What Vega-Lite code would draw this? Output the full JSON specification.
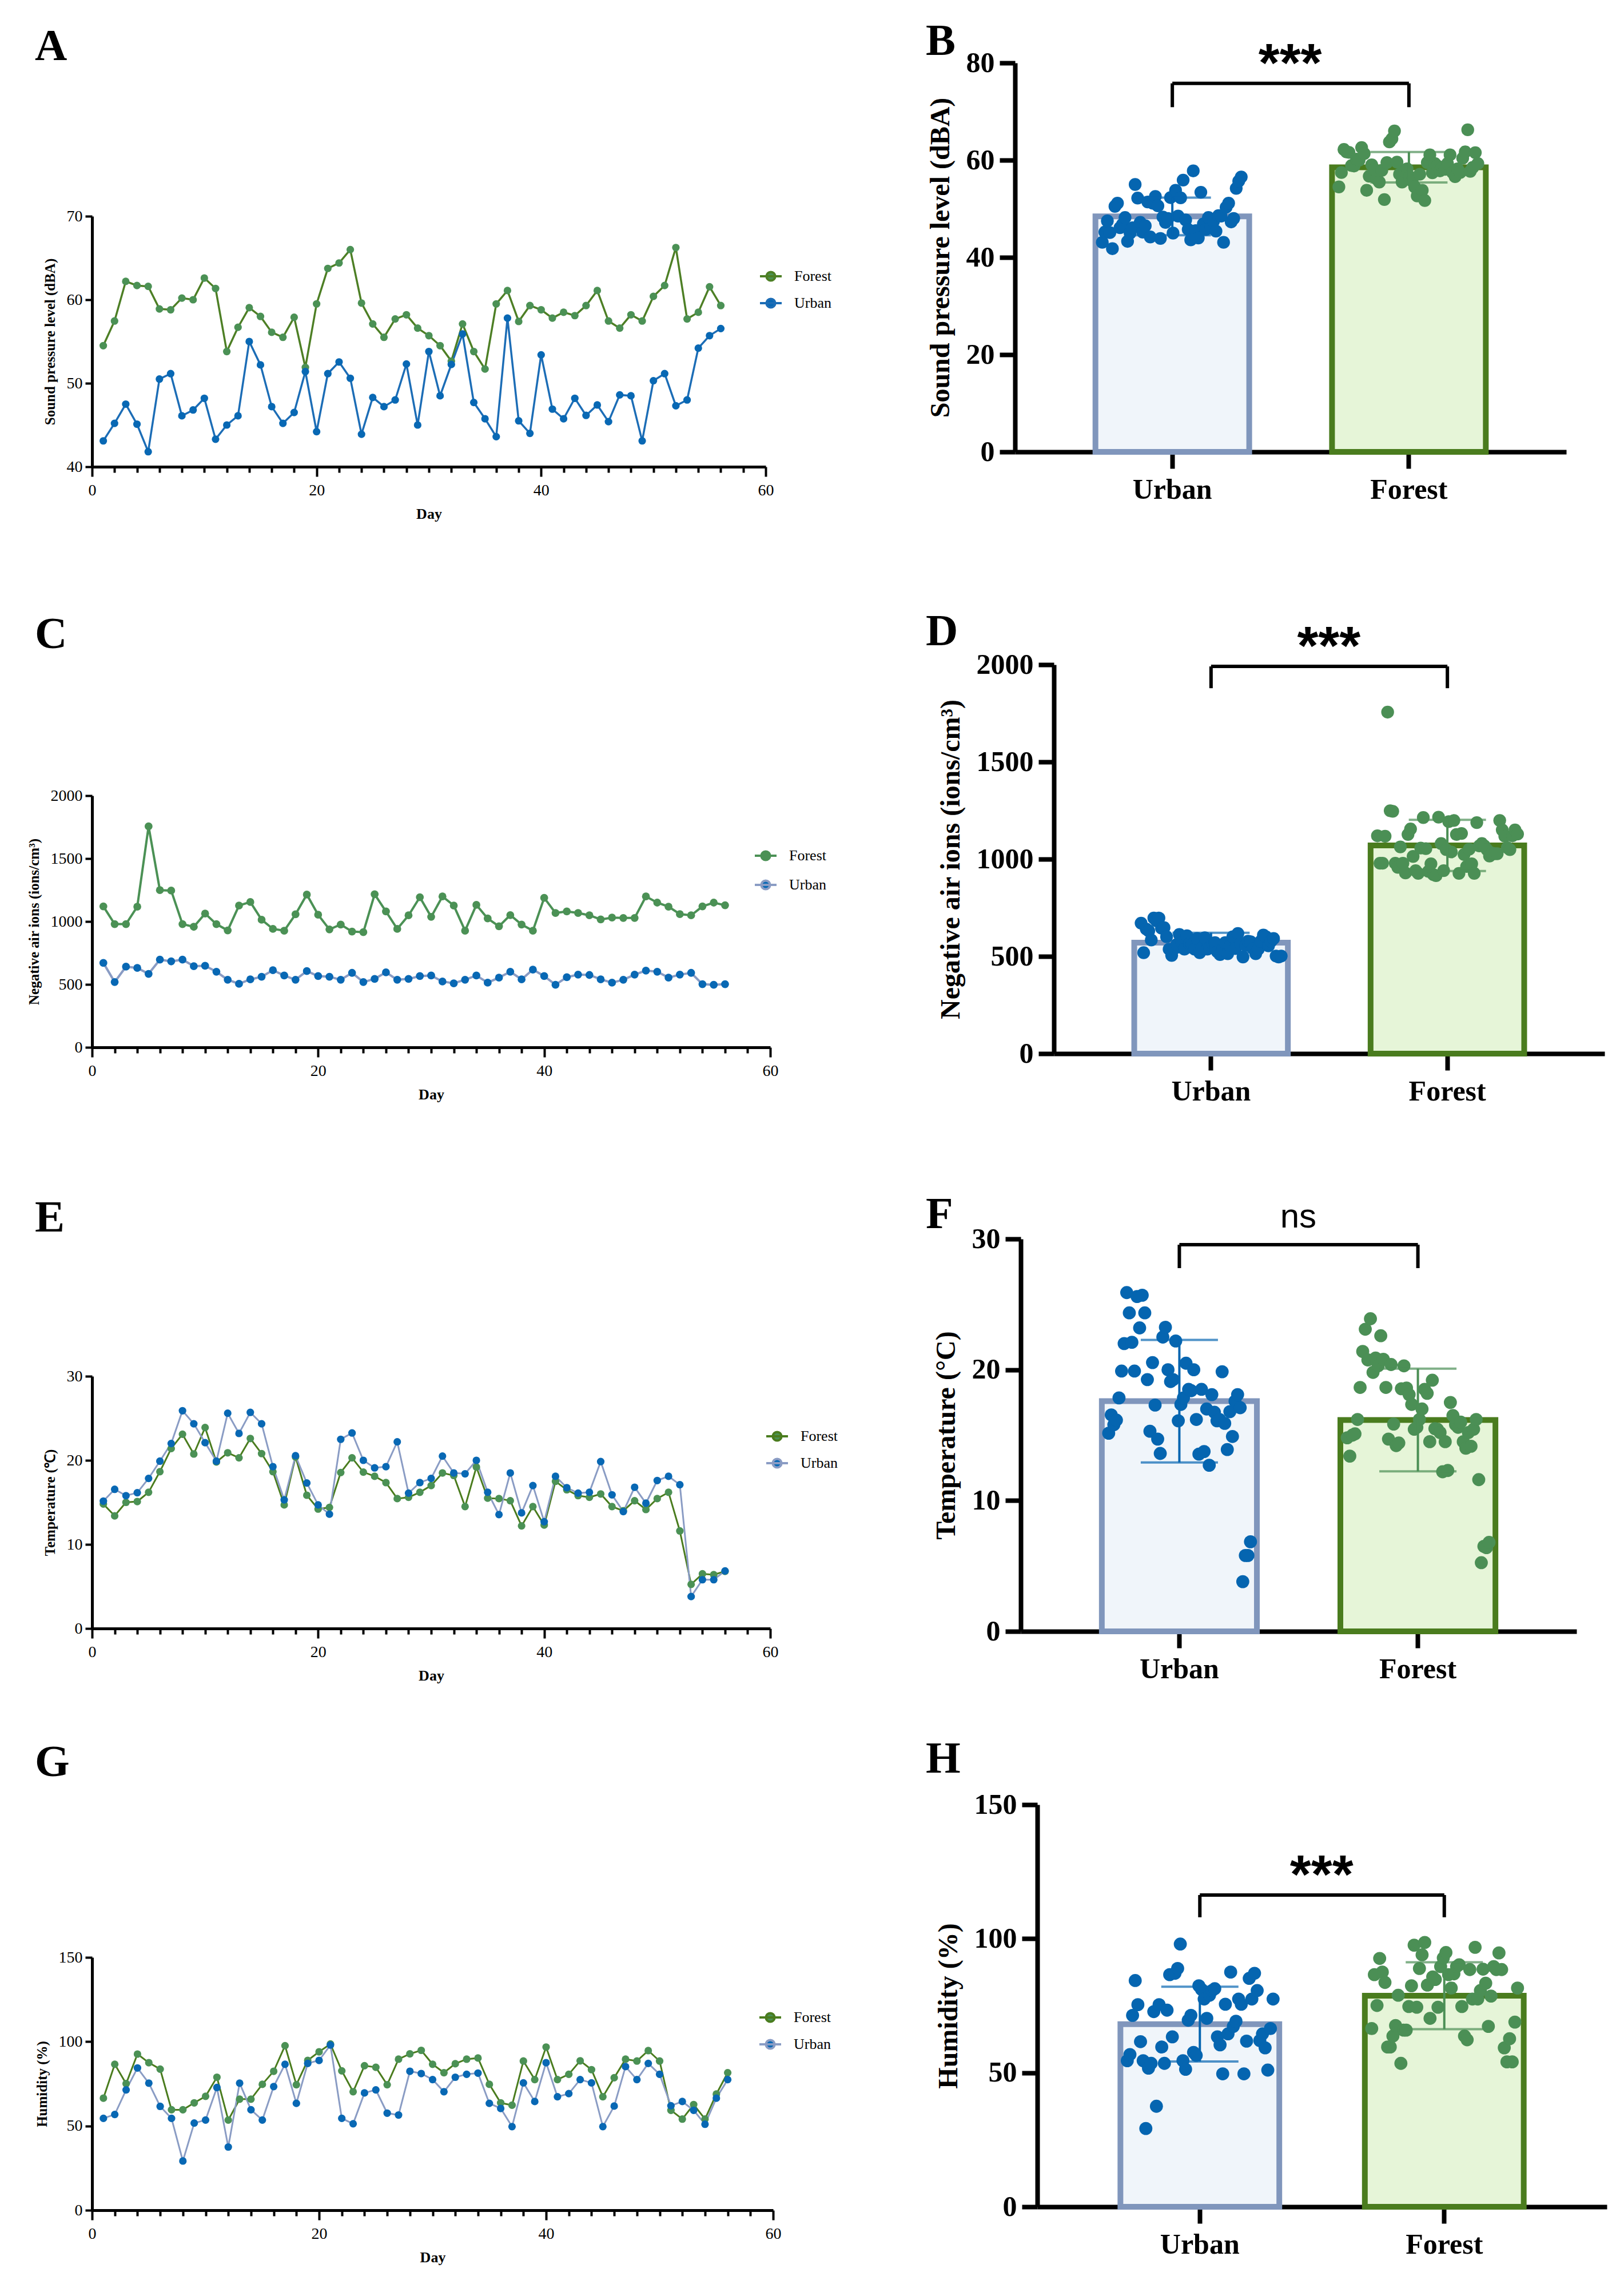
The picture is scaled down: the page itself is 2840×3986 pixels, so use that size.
{
"$schema":"https://vega.github.io/schema/vega-lite/v6.json",
"background":"white",
"padding":{"left":47,"top":33,"right":10,"bottom":10},
"config":{"view":{"stroke":null}},
"datasets":{
"spl":[{"day":1,"Forest":54.5,"Urban":43.1},{"day":2,"Forest":57.45,"Urban":45.2},{"day":3,"Forest":62.2,"Urban":47.5},{"day":4,"Forest":61.7,"Urban":45.1},{"day":5,"Forest":61.6,"Urban":41.8},{"day":6,"Forest":58.9,"Urban":50.5},{"day":7,"Forest":58.8,"Urban":51.15},{"day":8,"Forest":60.2,"Urban":46.1},{"day":9,"Forest":60.0,"Urban":46.8},{"day":10,"Forest":62.6,"Urban":48.2},{"day":11,"Forest":61.35,"Urban":43.3},{"day":12,"Forest":53.8,"Urban":45.0},{"day":13,"Forest":56.7,"Urban":46.1},{"day":14,"Forest":59.05,"Urban":55.0},{"day":15,"Forest":58.0,"Urban":52.2},{"day":16,"Forest":56.1,"Urban":47.2},{"day":17,"Forest":55.5,"Urban":45.2},{"day":18,"Forest":57.9,"Urban":46.5},{"day":19,"Forest":51.9,"Urban":51.4},{"day":20,"Forest":59.5,"Urban":44.2},{"day":21,"Forest":63.75,"Urban":51.15},{"day":22,"Forest":64.4,"Urban":52.55},{"day":23,"Forest":66.0,"Urban":50.6},{"day":24,"Forest":59.6,"Urban":43.9},{"day":25,"Forest":57.1,"Urban":48.3},{"day":26,"Forest":55.5,"Urban":47.2},{"day":27,"Forest":57.7,"Urban":48.0},{"day":28,"Forest":58.2,"Urban":52.3},{"day":29,"Forest":56.6,"Urban":45.0},{"day":30,"Forest":55.7,"Urban":53.8},{"day":31,"Forest":54.5,"Urban":48.5},{"day":32,"Forest":52.65,"Urban":52.25},{"day":33,"Forest":57.1,"Urban":55.9},{"day":34,"Forest":53.8,"Urban":47.7},{"day":35,"Forest":51.7,"Urban":45.75},{"day":36,"Forest":59.5,"Urban":43.6},{"day":37,"Forest":61.1,"Urban":57.8},{"day":38,"Forest":57.4,"Urban":45.5},{"day":39,"Forest":59.3,"Urban":44.0},{"day":40,"Forest":58.8,"Urban":53.4},{"day":41,"Forest":57.8,"Urban":46.9},{"day":42,"Forest":58.5,"Urban":45.75},{"day":43,"Forest":58.1,"Urban":48.2},{"day":44,"Forest":59.3,"Urban":46.15},{"day":45,"Forest":61.1,"Urban":47.4},{"day":46,"Forest":57.45,"Urban":45.4},{"day":47,"Forest":56.6,"Urban":48.6},{"day":48,"Forest":58.2,"Urban":48.5},{"day":49,"Forest":57.45,"Urban":43.1},{"day":50,"Forest":60.4,"Urban":50.3},{"day":51,"Forest":61.7,"Urban":51.15},{"day":52,"Forest":66.25,"Urban":47.3},{"day":53,"Forest":57.7,"Urban":48.0},{"day":54,"Forest":58.5,"Urban":54.2},{"day":55,"Forest":61.55,"Urban":55.7},{"day":56,"Forest":59.3,"Urban":56.55}],
"nai":[{"day":1,"Forest":1120,"Urban":671},{"day":2,"Forest":979,"Urban":519},{"day":3,"Forest":979,"Urban":641},{"day":4,"Forest":1118,"Urban":631},{"day":5,"Forest":1756,"Urban":584},{"day":6,"Forest":1249,"Urban":697},{"day":7,"Forest":1246,"Urban":683},{"day":8,"Forest":979,"Urban":697},{"day":9,"Forest":958,"Urban":645},{"day":10,"Forest":1063,"Urban":648},{"day":11,"Forest":979,"Urban":601},{"day":12,"Forest":929,"Urban":537},{"day":13,"Forest":1127,"Urban":505},{"day":14,"Forest":1155,"Urban":540},{"day":15,"Forest":1014,"Urban":561},{"day":16,"Forest":941,"Urban":613},{"day":17,"Forest":927,"Urban":571},{"day":18,"Forest":1057,"Urban":537},{"day":19,"Forest":1214,"Urban":606},{"day":20,"Forest":1054,"Urban":566},{"day":21,"Forest":937,"Urban":561},{"day":22,"Forest":976,"Urban":537},{"day":23,"Forest":920,"Urban":592},{"day":24,"Forest":915,"Urban":519},{"day":25,"Forest":1216,"Urban":544},{"day":26,"Forest":1080,"Urban":596},{"day":27,"Forest":941,"Urban":537},{"day":28,"Forest":1049,"Urban":544},{"day":29,"Forest":1193,"Urban":566},{"day":30,"Forest":1037,"Urban":571},{"day":31,"Forest":1199,"Urban":523},{"day":32,"Forest":1127,"Urban":509},{"day":33,"Forest":927,"Urban":537},{"day":34,"Forest":1132,"Urban":571},{"day":35,"Forest":1024,"Urban":514},{"day":36,"Forest":962,"Urban":554},{"day":37,"Forest":1051,"Urban":601},{"day":38,"Forest":976,"Urban":540},{"day":39,"Forest":927,"Urban":618},{"day":40,"Forest":1188,"Urban":566},{"day":41,"Forest":1068,"Urban":497},{"day":42,"Forest":1080,"Urban":557},{"day":43,"Forest":1068,"Urban":578},{"day":44,"Forest":1049,"Urban":575},{"day":45,"Forest":1016,"Urban":540},{"day":46,"Forest":1031,"Urban":514},{"day":47,"Forest":1028,"Urban":537},{"day":48,"Forest":1028,"Urban":578},{"day":49,"Forest":1199,"Urban":610},{"day":50,"Forest":1150,"Urban":601},{"day":51,"Forest":1118,"Urban":554},{"day":52,"Forest":1059,"Urban":578},{"day":53,"Forest":1049,"Urban":592},{"day":54,"Forest":1120,"Urban":502},{"day":55,"Forest":1150,"Urban":497},{"day":56,"Forest":1129,"Urban":502}],
"temp":[{"day":1,"Forest":14.8,"Urban":15.15},{"day":2,"Forest":13.4,"Urban":16.55},{"day":3,"Forest":15.0,"Urban":15.8},{"day":4,"Forest":15.1,"Urban":16.15},{"day":5,"Forest":16.2,"Urban":17.85},{"day":6,"Forest":18.65,"Urban":19.9},{"day":7,"Forest":21.4,"Urban":22.0},{"day":8,"Forest":23.1,"Urban":25.9},{"day":9,"Forest":20.75,"Urban":24.35},{"day":10,"Forest":23.9,"Urban":22.1},{"day":11,"Forest":19.8,"Urban":19.9},{"day":12,"Forest":20.9,"Urban":25.6},{"day":13,"Forest":20.3,"Urban":23.2},{"day":14,"Forest":22.6,"Urban":25.7},{"day":15,"Forest":20.8,"Urban":24.35},{"day":16,"Forest":18.65,"Urban":19.25},{"day":17,"Forest":14.7,"Urban":15.3},{"day":18,"Forest":20.4,"Urban":20.55},{"day":19,"Forest":15.85,"Urban":17.3},{"day":20,"Forest":14.2,"Urban":14.7},{"day":21,"Forest":14.4,"Urban":13.6},{"day":22,"Forest":18.55,"Urban":22.5},{"day":23,"Forest":20.3,"Urban":23.25},{"day":24,"Forest":18.6,"Urban":20.0},{"day":25,"Forest":18.1,"Urban":19.1},{"day":26,"Forest":17.35,"Urban":19.25},{"day":27,"Forest":15.45,"Urban":22.2},{"day":28,"Forest":15.6,"Urban":16.1},{"day":29,"Forest":16.2,"Urban":17.35},{"day":30,"Forest":17.0,"Urban":17.85},{"day":31,"Forest":18.5,"Urban":20.5},{"day":32,"Forest":18.2,"Urban":18.5},{"day":33,"Forest":14.5,"Urban":18.4},{"day":34,"Forest":19.2,"Urban":20.0},{"day":35,"Forest":15.5,"Urban":16.2},{"day":36,"Forest":15.45,"Urban":13.55},{"day":37,"Forest":15.2,"Urban":18.5},{"day":38,"Forest":12.2,"Urban":13.75},{"day":39,"Forest":14.5,"Urban":17.0},{"day":40,"Forest":12.3,"Urban":12.7},{"day":41,"Forest":17.5,"Urban":18.1},{"day":42,"Forest":16.5,"Urban":16.75},{"day":43,"Forest":15.8,"Urban":16.1},{"day":44,"Forest":15.6,"Urban":16.2},{"day":45,"Forest":16.0,"Urban":19.85},{"day":46,"Forest":14.5,"Urban":15.9},{"day":47,"Forest":14.0,"Urban":13.9},{"day":48,"Forest":15.2,"Urban":16.8},{"day":49,"Forest":14.15,"Urban":14.9},{"day":50,"Forest":15.45,"Urban":17.6},{"day":51,"Forest":16.2,"Urban":18.1},{"day":52,"Forest":11.6,"Urban":17.1},{"day":53,"Forest":5.25,"Urban":3.8},{"day":54,"Forest":6.5,"Urban":5.8},{"day":55,"Forest":6.4,"Urban":5.8},{"day":56,"Forest":6.8,"Urban":6.85}],
"hum":[{"day":1,"Forest":66.5,"Urban":54.5},{"day":2,"Forest":86.6,"Urban":56.8},{"day":3,"Forest":75.1,"Urban":71.4},{"day":4,"Forest":92.65,"Urban":84.4},{"day":5,"Forest":87.55,"Urban":75.4},{"day":6,"Forest":83.7,"Urban":61.6},{"day":7,"Forest":59.6,"Urban":54.5},{"day":8,"Forest":59.6,"Urban":29.2},{"day":9,"Forest":63.7,"Urban":51.7},{"day":10,"Forest":67.6,"Urban":53.5},{"day":11,"Forest":78.9,"Urban":72.8},{"day":12,"Forest":53.5,"Urban":37.5},{"day":13,"Forest":65.9,"Urban":75.4},{"day":14,"Forest":65.9,"Urban":59.6},{"day":15,"Forest":74.7,"Urban":53.5},{"day":16,"Forest":82.45,"Urban":73.35},{"day":17,"Forest":97.6,"Urban":86.6},{"day":18,"Forest":74.45,"Urban":63.4},{"day":19,"Forest":88.9,"Urban":87.1},{"day":20,"Forest":94.0,"Urban":88.9},{"day":21,"Forest":98.6,"Urban":98.0},{"day":22,"Forest":82.7,"Urban":54.5},{"day":23,"Forest":70.3,"Urban":51.3},{"day":24,"Forest":85.75,"Urban":69.6},{"day":25,"Forest":84.8,"Urban":71.4},{"day":26,"Forest":74.45,"Urban":57.6},{"day":27,"Forest":89.6,"Urban":56.5},{"day":28,"Forest":92.8,"Urban":82.45},{"day":29,"Forest":94.85,"Urban":81.1},{"day":30,"Forest":86.6,"Urban":77.5},{"day":31,"Forest":81.6,"Urban":70.3},{"day":32,"Forest":86.9,"Urban":78.9},{"day":33,"Forest":89.6,"Urban":80.65},{"day":34,"Forest":90.3,"Urban":81.35},{"day":35,"Forest":74.7,"Urban":63.4},{"day":36,"Forest":63.7,"Urban":60.4},{"day":37,"Forest":62.3,"Urban":49.6},{"day":38,"Forest":88.5,"Urban":75.55},{"day":39,"Forest":77.5,"Urban":64.5},{"day":40,"Forest":96.8,"Urban":87.55},{"day":41,"Forest":77.5,"Urban":67.3},{"day":42,"Forest":80.65,"Urban":69.2},{"day":43,"Forest":88.65,"Urban":77.5},{"day":44,"Forest":83.4,"Urban":75.55},{"day":45,"Forest":67.3,"Urban":49.6},{"day":46,"Forest":78.6,"Urban":61.8},{"day":47,"Forest":89.6,"Urban":85.2},{"day":48,"Forest":88.5,"Urban":77.5},{"day":49,"Forest":94.7,"Urban":87.1},{"day":50,"Forest":88.5,"Urban":80.65},{"day":51,"Forest":59.3,"Urban":62.0},{"day":52,"Forest":54.05,"Urban":64.5},{"day":53,"Forest":62.7,"Urban":59.3},{"day":54,"Forest":54.05,"Urban":51.0},{"day":55,"Forest":68.9,"Urban":66.5},{"day":56,"Forest":81.6,"Urban":77.5}]
},
"resolve":{"scale":{"color":"independent","fill":"independent","stroke":"independent"}},
"concat":[
{"resolve":{"scale":{"color":"independent","fill":"independent","stroke":"independent"}},
"concat":[
{"width":1,"height":1,"data":{"values":[]},"mark":"point"},
{"resolve":{"scale":{"color":"independent","fill":"independent","stroke":"independent"}},
"concat":[
{"width":1178,"height":438,
"title":{"text":"A","anchor":"start","frame":"group","dx":-100,"offset":181,"baseline":"alphabetic","font":"Liberation Serif","fontSize":78,"fontWeight":"bold","color":"black"},
"data":{"name":"spl"},"transform":[{"fold":["Forest","Urban"],"as":["site","v"]}],
"encoding":{
"x":{"field":"day","type":"quantitative","scale":{"domain":[0,60],"nice":false,"zero":false},"axis":{"title":"Day","values":[0,2,4,6,8,10,12,14,16,18,20,22,24,26,28,30,32,34,36,38,40,42,44,46,48,50,52,54,56,58,60],"labelExpr":"datum.value % 20 === 0 ? datum.label : ''","labelFont":"Liberation Serif","labelFontSize":28,"labelColor":"black","labelPadding":10,"labelOverlap":false,"labelFlush":false,"tickColor":"black","tickWidth":4,"tickSize":{"condition":{"test":"datum.value % 20 === 0","value":17},"value":10},"domainColor":"black","domainWidth":5,"grid":false,"titleFont":"Liberation Serif","titleFontSize":26,"titleFontWeight":"bold","titleColor":"black","titlePadding":14}},
"y":{"field":"v","type":"quantitative","scale":{"domain":[40,70],"nice":false,"zero":false},"axis":{"title":"Sound pressure level (dBA)","values":[40,50,60,70],"labelFont":"Liberation Serif","labelFontSize":28,"labelColor":"black","labelPadding":5,"tickColor":"black","tickWidth":4,"tickSize":12,"domainColor":"black","domainWidth":5,"grid":false,"titleFont":"Liberation Serif","titleFontSize":25,"titleFontWeight":"bold","titleColor":"black","titlePadding":16}}},
"layer":[
{"mark":{"type":"line","strokeWidth":3.5},"encoding":{"color":{"field":"site","type":"nominal","scale":{"domain":["Forest","Urban"],"range":["#4d7f25","#1c6db6"]},"legend":{"title":null,"orient":"none","legendX":1166,"legendY":84,"symbolType":"M-1,0L1,0M0.4,0A0.4,0.4,0,1,1,-0.4,0A0.4,0.4,0,1,1,0.4,0Z","symbolSize":1444,"symbolStrokeWidth":4,"labelFont":"Liberation Serif","labelFontSize":26,"labelColor":"black","labelOffset":20,"rowPadding":10,"symbolOpacity":1}}}},
{"mark":{"type":"point","filled":true,"opacity":1,"size":175},"encoding":{"fill":{"field":"site","type":"nominal","scale":{"domain":["Forest","Urban"],"range":["#4b9155","#0868b4"]},"legend":{"title":null,"orient":"none","legendX":1166,"legendY":84,"symbolType":"M-1,0L1,0M0.4,0A0.4,0.4,0,1,1,-0.4,0A0.4,0.4,0,1,1,0.4,0Z","symbolSize":1444,"symbolStrokeWidth":4,"labelFont":"Liberation Serif","labelFontSize":26,"labelColor":"black","labelOffset":20,"rowPadding":10,"symbolOpacity":1}}}}
]},
{"width":1186,"height":440,
"title":{"text":"C","anchor":"start","frame":"group","dx":-100,"offset":166,"baseline":"alphabetic","font":"Liberation Serif","fontSize":78,"fontWeight":"bold","color":"black"},
"data":{"name":"nai"},"transform":[{"fold":["Forest","Urban"],"as":["site","v"]}],
"encoding":{
"x":{"field":"day","type":"quantitative","scale":{"domain":[0,60],"nice":false,"zero":false},"axis":{"title":"Day","values":[0,2,4,6,8,10,12,14,16,18,20,22,24,26,28,30,32,34,36,38,40,42,44,46,48,50,52,54,56,58,60],"labelExpr":"datum.value % 20 === 0 ? datum.label : ''","labelFont":"Liberation Serif","labelFontSize":28,"labelColor":"black","labelPadding":10,"labelOverlap":false,"labelFlush":false,"tickColor":"black","tickWidth":4,"tickSize":{"condition":{"test":"datum.value % 20 === 0","value":17},"value":10},"domainColor":"black","domainWidth":5,"grid":false,"titleFont":"Liberation Serif","titleFontSize":26,"titleFontWeight":"bold","titleColor":"black","titlePadding":14}},
"y":{"field":"v","type":"quantitative","scale":{"domain":[0,2000],"nice":false},"axis":{"title":"Negative air ions (ions/cm³)","values":[0,500,1000,1500,2000],"format":"d","labelFont":"Liberation Serif","labelFontSize":28,"labelColor":"black","labelPadding":5,"tickColor":"black","tickWidth":4,"tickSize":12,"domainColor":"black","domainWidth":5,"grid":false,"titleFont":"Liberation Serif","titleFontSize":25,"titleFontWeight":"bold","titleColor":"black","titlePadding":16}}},
"layer":[
{"mark":{"type":"line","strokeWidth":4},"encoding":{"color":{"field":"site","type":"nominal","scale":{"domain":["Forest","Urban"],"range":["#4b9155","#8a9cc4"]},"legend":{"title":null,"orient":"none","legendX":1157,"legendY":84,"symbolType":"M-1,0L1,0M0.4,0A0.4,0.4,0,1,1,-0.4,0A0.4,0.4,0,1,1,0.4,0Z","symbolSize":1444,"symbolStrokeWidth":4,"labelFont":"Liberation Serif","labelFontSize":26,"labelColor":"black","labelOffset":20,"rowPadding":14,"symbolOpacity":1}}}},
{"mark":{"type":"point","filled":true,"opacity":1,"size":190},"encoding":{"fill":{"field":"site","type":"nominal","scale":{"domain":["Forest","Urban"],"range":["#4b9155","#0868b4"]},"legend":{"title":null,"orient":"none","legendX":1157,"legendY":84,"symbolType":"M-1,0L1,0M0.4,0A0.4,0.4,0,1,1,-0.4,0A0.4,0.4,0,1,1,0.4,0Z","symbolSize":1444,"symbolStrokeWidth":4,"labelFont":"Liberation Serif","labelFontSize":26,"labelColor":"black","labelOffset":20,"rowPadding":14,"symbolOpacity":1}}}}
]},
{"width":1186,"height":441,
"title":{"text":"E","anchor":"start","frame":"group","dx":-100,"offset":161,"baseline":"alphabetic","font":"Liberation Serif","fontSize":78,"fontWeight":"bold","color":"black"},
"data":{"name":"temp"},"transform":[{"fold":["Forest","Urban"],"as":["site","v"]}],
"encoding":{
"x":{"field":"day","type":"quantitative","scale":{"domain":[0,60],"nice":false,"zero":false},"axis":{"title":"Day","values":[0,2,4,6,8,10,12,14,16,18,20,22,24,26,28,30,32,34,36,38,40,42,44,46,48,50,52,54,56,58,60],"labelExpr":"datum.value % 20 === 0 ? datum.label : ''","labelFont":"Liberation Serif","labelFontSize":28,"labelColor":"black","labelPadding":10,"labelOverlap":false,"labelFlush":false,"tickColor":"black","tickWidth":4,"tickSize":{"condition":{"test":"datum.value % 20 === 0","value":17},"value":10},"domainColor":"black","domainWidth":5,"grid":false,"titleFont":"Liberation Serif","titleFontSize":26,"titleFontWeight":"bold","titleColor":"black","titlePadding":14}},
"y":{"field":"v","type":"quantitative","scale":{"domain":[0,30],"nice":false},"axis":{"title":"Temperature (℃)","values":[0,10,20,30],"labelFont":"Liberation Serif","labelFontSize":28,"labelColor":"black","labelPadding":5,"tickColor":"black","tickWidth":4,"tickSize":12,"domainColor":"black","domainWidth":5,"grid":false,"titleFont":"Liberation Serif","titleFontSize":25,"titleFontWeight":"bold","titleColor":"black","titlePadding":16}}},
"layer":[
{"mark":{"type":"line","strokeWidth":3},"encoding":{"color":{"field":"site","type":"nominal","scale":{"domain":["Forest","Urban"],"range":["#4a7c1e","#8a9cc4"]},"legend":{"title":null,"orient":"none","legendX":1177,"legendY":84,"symbolType":"M-1,0L1,0M0.4,0A0.4,0.4,0,1,1,-0.4,0A0.4,0.4,0,1,1,0.4,0Z","symbolSize":1444,"symbolStrokeWidth":4,"labelFont":"Liberation Serif","labelFontSize":26,"labelColor":"black","labelOffset":20,"rowPadding":10,"symbolOpacity":1}}}},
{"mark":{"type":"point","filled":true,"opacity":1,"size":175},"encoding":{"fill":{"field":"site","type":"nominal","scale":{"domain":["Forest","Urban"],"range":["#4b9155","#0868b4"]},"legend":{"title":null,"orient":"none","legendX":1177,"legendY":84,"symbolType":"M-1,0L1,0M0.4,0A0.4,0.4,0,1,1,-0.4,0A0.4,0.4,0,1,1,0.4,0Z","symbolSize":1444,"symbolStrokeWidth":4,"labelFont":"Liberation Serif","labelFontSize":26,"labelColor":"black","labelOffset":20,"rowPadding":10,"symbolOpacity":1}}}}
]},
{"width":1191,"height":442,
"title":{"text":"G","anchor":"start","frame":"group","dx":-100,"offset":225,"baseline":"alphabetic","font":"Liberation Serif","fontSize":78,"fontWeight":"bold","color":"black"},
"data":{"name":"hum"},"transform":[{"fold":["Forest","Urban"],"as":["site","v"]}],
"encoding":{
"x":{"field":"day","type":"quantitative","scale":{"domain":[0,60],"nice":false,"zero":false},"axis":{"title":"Day","values":[0,2,4,6,8,10,12,14,16,18,20,22,24,26,28,30,32,34,36,38,40,42,44,46,48,50,52,54,56,58,60],"labelExpr":"datum.value % 20 === 0 ? datum.label : ''","labelFont":"Liberation Serif","labelFontSize":28,"labelColor":"black","labelPadding":10,"labelOverlap":false,"labelFlush":false,"tickColor":"black","tickWidth":4,"tickSize":{"condition":{"test":"datum.value % 20 === 0","value":17},"value":10},"domainColor":"black","domainWidth":5,"grid":false,"titleFont":"Liberation Serif","titleFontSize":26,"titleFontWeight":"bold","titleColor":"black","titlePadding":14}},
"y":{"field":"v","type":"quantitative","scale":{"domain":[0,150],"nice":false},"axis":{"title":"Humidity (%)","values":[0,50,100,150],"labelFont":"Liberation Serif","labelFontSize":28,"labelColor":"black","labelPadding":5,"tickColor":"black","tickWidth":4,"tickSize":12,"domainColor":"black","domainWidth":5,"grid":false,"titleFont":"Liberation Serif","titleFontSize":25,"titleFontWeight":"bold","titleColor":"black","titlePadding":16}}},
"layer":[
{"mark":{"type":"line","strokeWidth":3},"encoding":{"color":{"field":"site","type":"nominal","scale":{"domain":["Forest","Urban"],"range":["#4a7c1e","#8a9cc4"]},"legend":{"title":null,"orient":"none","legendX":1165,"legendY":84,"symbolType":"M-1,0L1,0M0.4,0A0.4,0.4,0,1,1,-0.4,0A0.4,0.4,0,1,1,0.4,0Z","symbolSize":1444,"symbolStrokeWidth":4,"labelFont":"Liberation Serif","labelFontSize":26,"labelColor":"black","labelOffset":20,"rowPadding":10,"symbolOpacity":1}}}},
{"mark":{"type":"point","filled":true,"opacity":1,"size":175},"encoding":{"fill":{"field":"site","type":"nominal","scale":{"domain":["Forest","Urban"],"range":["#4b9155","#0868b4"]},"legend":{"title":null,"orient":"none","legendX":1165,"legendY":84,"symbolType":"M-1,0L1,0M0.4,0A0.4,0.4,0,1,1,-0.4,0A0.4,0.4,0,1,1,0.4,0Z","symbolSize":1444,"symbolStrokeWidth":4,"labelFont":"Liberation Serif","labelFontSize":26,"labelColor":"black","labelOffset":20,"rowPadding":10,"symbolOpacity":1}}}}
]}
],"columns":1,"align":"none","bounds":"flush","spacing":575}
],"columns":1,"align":"none","bounds":"flush","spacing":267},
{"resolve":{"scale":{"color":"independent","fill":"independent","stroke":"independent"}},
"concat":[
{"width":964,"height":680,
"title":{"text":"B","anchor":"start","frame":"group","dx":-156,"offset":-108,"baseline":"alphabetic","font":"Liberation Serif","fontSize":78,"fontWeight":"bold","color":"black"},
"resolve":{"scale":{"xOffset":"independent","color":"independent","fill":"independent","stroke":"independent"}},
"layer":[
{"data":{"name":"spl"},"transform":[{"fold":["Urban","Forest"],"as":["site","v"]}],"mark":{"type":"bar","strokeWidth":10},
"encoding":{"x":{"field":"site","type":"nominal","sort":["Urban","Forest"],"scale":{"type":"band","domain":["Urban","Forest"],"paddingInner":0.35,"paddingOuter":0.34},"axis":{"title":null,"labelAngle":0,"labelFont":"Liberation Serif","labelFontSize":50,"labelFontWeight":"bold","labelColor":"black","labelPadding":12,"tickColor":"black","tickWidth":8,"tickSize":29,"domainColor":"black","domainWidth":8}},
"y":{"field":"v","aggregate":"mean","type":"quantitative","title":"Sound pressure level (dBA)","scale":{"domain":[0,80],"nice":false},"axis":{"title":"Sound pressure level (dBA)","values":[0,20,40,60,80],"labelFont":"Liberation Serif","labelFontSize":50,"labelFontWeight":"bold","labelColor":"black","labelPadding":9,"tickColor":"black","tickWidth":8,"tickSize":27,"domainColor":"black","domainWidth":8,"grid":false,"titleFont":"Liberation Serif","titleFontSize":48,"titleFontWeight":"bold","titleColor":"black","titlePadding":20}},
"fill":{"field":"site","type":"nominal","scale":{"domain":["Urban","Forest"],"range":["#f0f5fa","#e6f5d8"]},"legend":null},
"stroke":{"field":"site","type":"nominal","scale":{"domain":["Urban","Forest"],"range":["#8096bc","#4a7c1e"]},"legend":null}}},
{"data":{"name":"spl"},"transform":[{"fold":["Urban","Forest"],"as":["site","v"]}],"mark":{"type":"point","filled":true,"opacity":1,"size":500},
"encoding":{"x":{"field":"site","type":"nominal","title":null},"xOffset":{"field":"day","type":"quantitative","scale":{"domain":[1,56],"range":[12,255]}},"y":{"field":"v","type":"quantitative","title":"Sound pressure level (dBA)"},"color":{"field":"site","type":"nominal","scale":{"domain":["Urban","Forest"],"range":["#0565b0","#4b8f55"]},"legend":null}}},
{"data":{"name":"spl"},"transform":[{"fold":["Urban","Forest"],"as":["site","v"]}],"mark":{"type":"errorbar","extent":"stdev","ticks":{"size":135,"thickness":4},"rule":{"strokeWidth":4}},
"encoding":{"x":{"field":"site","type":"nominal","title":null},"y":{"field":"v","type":"quantitative","title":"Sound pressure level (dBA)"},"color":{"field":"site","type":"nominal","scale":{"domain":["Urban","Forest"],"range":["#0565b0","#4b8f55"]},"legend":null}}},
{"data":{"values":[{"a":"Urban","b":"Forest","top":75.8,"bot":70.9,"lab":"***"}]},"mark":{"type":"rule","strokeWidth":6,"color":"black"},"encoding":{"x":{"field":"a","type":"nominal","title":null},"x2":{"field":"b"},"y":{"field":"top","type":"quantitative","title":"Sound pressure level (dBA)"}}},
{"data":{"values":[{"a":"Urban","b":"Forest","top":75.8,"bot":70.9,"lab":"***"}]},"mark":{"type":"rule","strokeWidth":6,"color":"black"},"encoding":{"x":{"field":"a","type":"nominal","title":null},"y":{"field":"top","type":"quantitative","title":"Sound pressure level (dBA)"},"y2":{"field":"bot"}}},
{"data":{"values":[{"a":"Urban","b":"Forest","top":75.8,"bot":70.9,"lab":"***"}]},"mark":{"type":"rule","strokeWidth":6,"color":"black"},"encoding":{"x":{"field":"b","type":"nominal","title":null},"y":{"field":"top","type":"quantitative","title":"Sound pressure level (dBA)"},"y2":{"field":"bot"}}},
{"data":{"values":[{"a":"Urban","b":"Forest","top":75.8,"bot":70.9,"lab":"***"}]},"mark":{"type":"text","font":"Liberation Sans","fontWeight":"bold","fontSize":95,"dx":206,"dy":-4,"baseline":"alphabetic","align":"center","color":"black"},"encoding":{"x":{"field":"a","type":"nominal","title":null},"y":{"field":"top","type":"quantitative","title":"Sound pressure level (dBA)"},"text":{"field":"lab"}}}
]},
{"resolve":{"scale":{"color":"independent","fill":"independent","stroke":"independent"}},
"concat":[
{"width":1031,"height":680,
"title":{"text":"D","anchor":"start","frame":"group","dx":-156,"offset":-121,"baseline":"alphabetic","font":"Liberation Serif","fontSize":78,"fontWeight":"bold","color":"black"},
"resolve":{"scale":{"xOffset":"independent","color":"independent","fill":"independent","stroke":"independent"}},
"layer":[
{"data":{"name":"nai"},"transform":[{"fold":["Urban","Forest"],"as":["site","v"]}],"mark":{"type":"bar","strokeWidth":10},
"encoding":{"x":{"field":"site","type":"nominal","sort":["Urban","Forest"],"scale":{"type":"band","domain":["Urban","Forest"],"range":[68,1031],"paddingInner":0.35,"paddingOuter":0.34},"axis":{"title":null,"labelAngle":0,"labelFont":"Liberation Serif","labelFontSize":50,"labelFontWeight":"bold","labelColor":"black","labelPadding":12,"tickColor":"black","tickWidth":8,"tickSize":29,"domainColor":"black","domainWidth":8}},
"y":{"field":"v","aggregate":"mean","type":"quantitative","title":"Negative air ions (ions/cm³)","scale":{"domain":[0,2000],"nice":false},"axis":{"title":"Negative air ions (ions/cm³)","offset":-68,"values":[0,500,1000,1500,2000],"format":"d","labelFont":"Liberation Serif","labelFontSize":50,"labelFontWeight":"bold","labelColor":"black","labelPadding":9,"tickColor":"black","tickWidth":8,"tickSize":27,"domainColor":"black","domainWidth":8,"grid":false,"titleFont":"Liberation Serif","titleFontSize":48,"titleFontWeight":"bold","titleColor":"black","titlePadding":20}},
"fill":{"field":"site","type":"nominal","scale":{"domain":["Urban","Forest"],"range":["#f0f5fa","#e6f5d8"]},"legend":null},
"stroke":{"field":"site","type":"nominal","scale":{"domain":["Urban","Forest"],"range":["#8096bc","#4a7c1e"]},"legend":null}}},
{"data":{"name":"nai"},"transform":[{"fold":["Urban","Forest"],"as":["site","v"]}],"mark":{"type":"point","filled":true,"opacity":1,"size":500},
"encoding":{"x":{"field":"site","type":"nominal","title":null},"xOffset":{"field":"day","type":"quantitative","scale":{"domain":[1,56],"range":[12,257]}},"y":{"field":"v","type":"quantitative","title":"Negative air ions (ions/cm³)"},"color":{"field":"site","type":"nominal","scale":{"domain":["Urban","Forest"],"range":["#0565b0","#4b8f55"]},"legend":null}}},
{"data":{"name":"nai"},"transform":[{"fold":["Urban","Forest"],"as":["site","v"]}],"mark":{"type":"errorbar","extent":"stdev","ticks":{"size":135,"thickness":4},"rule":{"strokeWidth":4}},
"encoding":{"x":{"field":"site","type":"nominal","title":null},"y":{"field":"v","type":"quantitative","title":"Negative air ions (ions/cm³)"},"color":{"field":"site","type":"nominal","scale":{"domain":["Urban","Forest"],"range":["#0565b0","#4b8f55"]},"legend":null}}},
{"data":{"values":[{"a":"Urban","b":"Forest","top":1991,"bot":1879,"lab":"***"}]},"mark":{"type":"rule","strokeWidth":6,"color":"black"},"encoding":{"x":{"field":"a","type":"nominal","title":null},"x2":{"field":"b"},"y":{"field":"top","type":"quantitative","title":"Negative air ions (ions/cm³)"}}},
{"data":{"values":[{"a":"Urban","b":"Forest","top":1991,"bot":1879,"lab":"***"}]},"mark":{"type":"rule","strokeWidth":6,"color":"black"},"encoding":{"x":{"field":"a","type":"nominal","title":null},"y":{"field":"top","type":"quantitative","title":"Negative air ions (ions/cm³)"},"y2":{"field":"bot"}}},
{"data":{"values":[{"a":"Urban","b":"Forest","top":1991,"bot":1879,"lab":"***"}]},"mark":{"type":"rule","strokeWidth":6,"color":"black"},"encoding":{"x":{"field":"b","type":"nominal","title":null},"y":{"field":"top","type":"quantitative","title":"Negative air ions (ions/cm³)"},"y2":{"field":"bot"}}},
{"data":{"values":[{"a":"Urban","b":"Forest","top":1991,"bot":1879,"lab":"***"}]},"mark":{"type":"text","font":"Liberation Sans","fontWeight":"bold","fontSize":95,"dx":206,"dy":-4,"baseline":"alphabetic","align":"center","color":"black"},"encoding":{"x":{"field":"a","type":"nominal","title":null},"y":{"field":"top","type":"quantitative","title":"Negative air ions (ions/cm³)"},"text":{"field":"lab"}}}
]},
{"resolve":{"scale":{"color":"independent","fill":"independent","stroke":"independent"}},
"concat":[
{"width":982,"height":686,
"title":{"text":"F","anchor":"start","frame":"group","dx":-156,"offset":-127,"baseline":"alphabetic","font":"Liberation Serif","fontSize":78,"fontWeight":"bold","color":"black"},
"resolve":{"scale":{"xOffset":"independent","color":"independent","fill":"independent","stroke":"independent"}},
"layer":[
{"data":{"name":"temp"},"transform":[{"fold":["Urban","Forest"],"as":["site","v"]}],"mark":{"type":"bar","strokeWidth":10},
"encoding":{"x":{"field":"site","type":"nominal","sort":["Urban","Forest"],"scale":{"type":"band","domain":["Urban","Forest"],"range":[10,982],"paddingInner":0.35,"paddingOuter":0.34},"axis":{"title":null,"labelAngle":0,"labelFont":"Liberation Serif","labelFontSize":50,"labelFontWeight":"bold","labelColor":"black","labelPadding":12,"tickColor":"black","tickWidth":8,"tickSize":29,"domainColor":"black","domainWidth":8}},
"y":{"field":"v","aggregate":"mean","type":"quantitative","title":"Temperature (°C)","scale":{"domain":[0,30],"nice":false},"axis":{"title":"Temperature (°C)","offset":-10,"values":[0,10,20,30],"labelFont":"Liberation Serif","labelFontSize":50,"labelFontWeight":"bold","labelColor":"black","labelPadding":9,"tickColor":"black","tickWidth":8,"tickSize":27,"domainColor":"black","domainWidth":8,"grid":false,"titleFont":"Liberation Serif","titleFontSize":48,"titleFontWeight":"bold","titleColor":"black","titlePadding":20}},
"fill":{"field":"site","type":"nominal","scale":{"domain":["Urban","Forest"],"range":["#f0f5fa","#e6f5d8"]},"legend":null},
"stroke":{"field":"site","type":"nominal","scale":{"domain":["Urban","Forest"],"range":["#8096bc","#4a7c1e"]},"legend":null}}},
{"data":{"name":"temp"},"transform":[{"fold":["Urban","Forest"],"as":["site","v"]}],"mark":{"type":"point","filled":true,"opacity":1,"size":520},
"encoding":{"x":{"field":"site","type":"nominal","title":null},"xOffset":{"field":"day","type":"quantitative","scale":{"domain":[1,56],"range":[12,260]}},"y":{"field":"v","type":"quantitative","title":"Temperature (°C)"},"color":{"field":"site","type":"nominal","scale":{"domain":["Urban","Forest"],"range":["#0565b0","#4b8f55"]},"legend":null}}},
{"data":{"name":"temp"},"transform":[{"fold":["Urban","Forest"],"as":["site","v"]}],"mark":{"type":"errorbar","extent":"stdev","ticks":{"size":135,"thickness":4},"rule":{"strokeWidth":4}},
"encoding":{"x":{"field":"site","type":"nominal","title":null},"y":{"field":"v","type":"quantitative","title":"Temperature (°C)"},"color":{"field":"site","type":"nominal","scale":{"domain":["Urban","Forest"],"range":["#0565b0","#4b8f55"]},"legend":null}}},
{"data":{"values":[{"a":"Urban","b":"Forest","top":29.56,"bot":27.77,"lab":"ns"}]},"mark":{"type":"rule","strokeWidth":6,"color":"black"},"encoding":{"x":{"field":"a","type":"nominal","title":null},"x2":{"field":"b"},"y":{"field":"top","type":"quantitative","title":"Temperature (°C)"}}},
{"data":{"values":[{"a":"Urban","b":"Forest","top":29.56,"bot":27.77,"lab":"ns"}]},"mark":{"type":"rule","strokeWidth":6,"color":"black"},"encoding":{"x":{"field":"a","type":"nominal","title":null},"y":{"field":"top","type":"quantitative","title":"Temperature (°C)"},"y2":{"field":"bot"}}},
{"data":{"values":[{"a":"Urban","b":"Forest","top":29.56,"bot":27.77,"lab":"ns"}]},"mark":{"type":"rule","strokeWidth":6,"color":"black"},"encoding":{"x":{"field":"b","type":"nominal","title":null},"y":{"field":"top","type":"quantitative","title":"Temperature (°C)"},"y2":{"field":"bot"}}},
{"data":{"values":[{"a":"Urban","b":"Forest","top":29.56,"bot":27.77,"lab":"ns"}]},"mark":{"type":"text","font":"Liberation Sans","fontSize":60,"dx":208,"dy":-30,"baseline":"alphabetic","align":"center","color":"black"},"encoding":{"x":{"field":"a","type":"nominal","title":null},"y":{"field":"top","type":"quantitative","title":"Temperature (°C)"},"text":{"field":"lab"}}}
]},
{"width":1035,"height":703,
"title":{"text":"H","anchor":"start","frame":"group","dx":-156,"offset":-47,"baseline":"alphabetic","font":"Liberation Serif","fontSize":78,"fontWeight":"bold","color":"black"},
"resolve":{"scale":{"xOffset":"independent","color":"independent","fill":"independent","stroke":"independent"}},
"layer":[
{"data":{"name":"hum"},"transform":[{"fold":["Urban","Forest"],"as":["site","v"]}],"mark":{"type":"bar","strokeWidth":10},
"encoding":{"x":{"field":"site","type":"nominal","sort":["Urban","Forest"],"scale":{"type":"band","domain":["Urban","Forest"],"range":[39,1035],"paddingInner":0.35,"paddingOuter":0.34},"axis":{"title":null,"labelAngle":0,"labelFont":"Liberation Serif","labelFontSize":50,"labelFontWeight":"bold","labelColor":"black","labelPadding":12,"tickColor":"black","tickWidth":8,"tickSize":29,"domainColor":"black","domainWidth":8}},
"y":{"field":"v","aggregate":"mean","type":"quantitative","title":"Humidity (%)","scale":{"domain":[0,150],"nice":false},"axis":{"title":"Humidity (%)","offset":-39,"values":[0,50,100,150],"labelFont":"Liberation Serif","labelFontSize":50,"labelFontWeight":"bold","labelColor":"black","labelPadding":9,"tickColor":"black","tickWidth":8,"tickSize":27,"domainColor":"black","domainWidth":8,"grid":false,"titleFont":"Liberation Serif","titleFontSize":48,"titleFontWeight":"bold","titleColor":"black","titlePadding":20}},
"fill":{"field":"site","type":"nominal","scale":{"domain":["Urban","Forest"],"range":["#f0f5fa","#e6f5d8"]},"legend":null},
"stroke":{"field":"site","type":"nominal","scale":{"domain":["Urban","Forest"],"range":["#8096bc","#4a7c1e"]},"legend":null}}},
{"data":{"name":"hum"},"transform":[{"fold":["Urban","Forest"],"as":["site","v"]}],"mark":{"type":"point","filled":true,"opacity":1,"size":520},
"encoding":{"x":{"field":"site","type":"nominal","title":null},"xOffset":{"field":"day","type":"quantitative","scale":{"domain":[1,56],"range":[12,267]}},"y":{"field":"v","type":"quantitative","title":"Humidity (%)"},"color":{"field":"site","type":"nominal","scale":{"domain":["Urban","Forest"],"range":["#0565b0","#4b8f55"]},"legend":null}}},
{"data":{"name":"hum"},"transform":[{"fold":["Urban","Forest"],"as":["site","v"]}],"mark":{"type":"errorbar","extent":"stdev","ticks":{"size":135,"thickness":4},"rule":{"strokeWidth":4}},
"encoding":{"x":{"field":"site","type":"nominal","title":null},"y":{"field":"v","type":"quantitative","title":"Humidity (%)"},"color":{"field":"site","type":"nominal","scale":{"domain":["Urban","Forest"],"range":["#0565b0","#4b8f55"]},"legend":null}}},
{"data":{"values":[{"a":"Urban","b":"Forest","top":116.3,"bot":108,"lab":"***"}]},"mark":{"type":"rule","strokeWidth":6,"color":"black"},"encoding":{"x":{"field":"a","type":"nominal","title":null},"x2":{"field":"b"},"y":{"field":"top","type":"quantitative","title":"Humidity (%)"}}},
{"data":{"values":[{"a":"Urban","b":"Forest","top":116.3,"bot":108,"lab":"***"}]},"mark":{"type":"rule","strokeWidth":6,"color":"black"},"encoding":{"x":{"field":"a","type":"nominal","title":null},"y":{"field":"top","type":"quantitative","title":"Humidity (%)"},"y2":{"field":"bot"}}},
{"data":{"values":[{"a":"Urban","b":"Forest","top":116.3,"bot":108,"lab":"***"}]},"mark":{"type":"rule","strokeWidth":6,"color":"black"},"encoding":{"x":{"field":"b","type":"nominal","title":null},"y":{"field":"top","type":"quantitative","title":"Humidity (%)"},"y2":{"field":"bot"}}},
{"data":{"values":[{"a":"Urban","b":"Forest","top":116.3,"bot":108,"lab":"***"}]},"mark":{"type":"text","font":"Liberation Sans","fontWeight":"bold","fontSize":95,"dx":213,"dy":-4,"baseline":"alphabetic","align":"center","color":"black"},"encoding":{"x":{"field":"a","type":"nominal","title":null},"y":{"field":"top","type":"quantitative","title":"Humidity (%)"},"text":{"field":"lab"}}}
]}
],"columns":1,"align":"none","spacing":94}
],"columns":1,"align":"none","spacing":152}
],"columns":1,"align":"none","spacing":185}
],
"columns":2,"align":"none","spacing":154
}
